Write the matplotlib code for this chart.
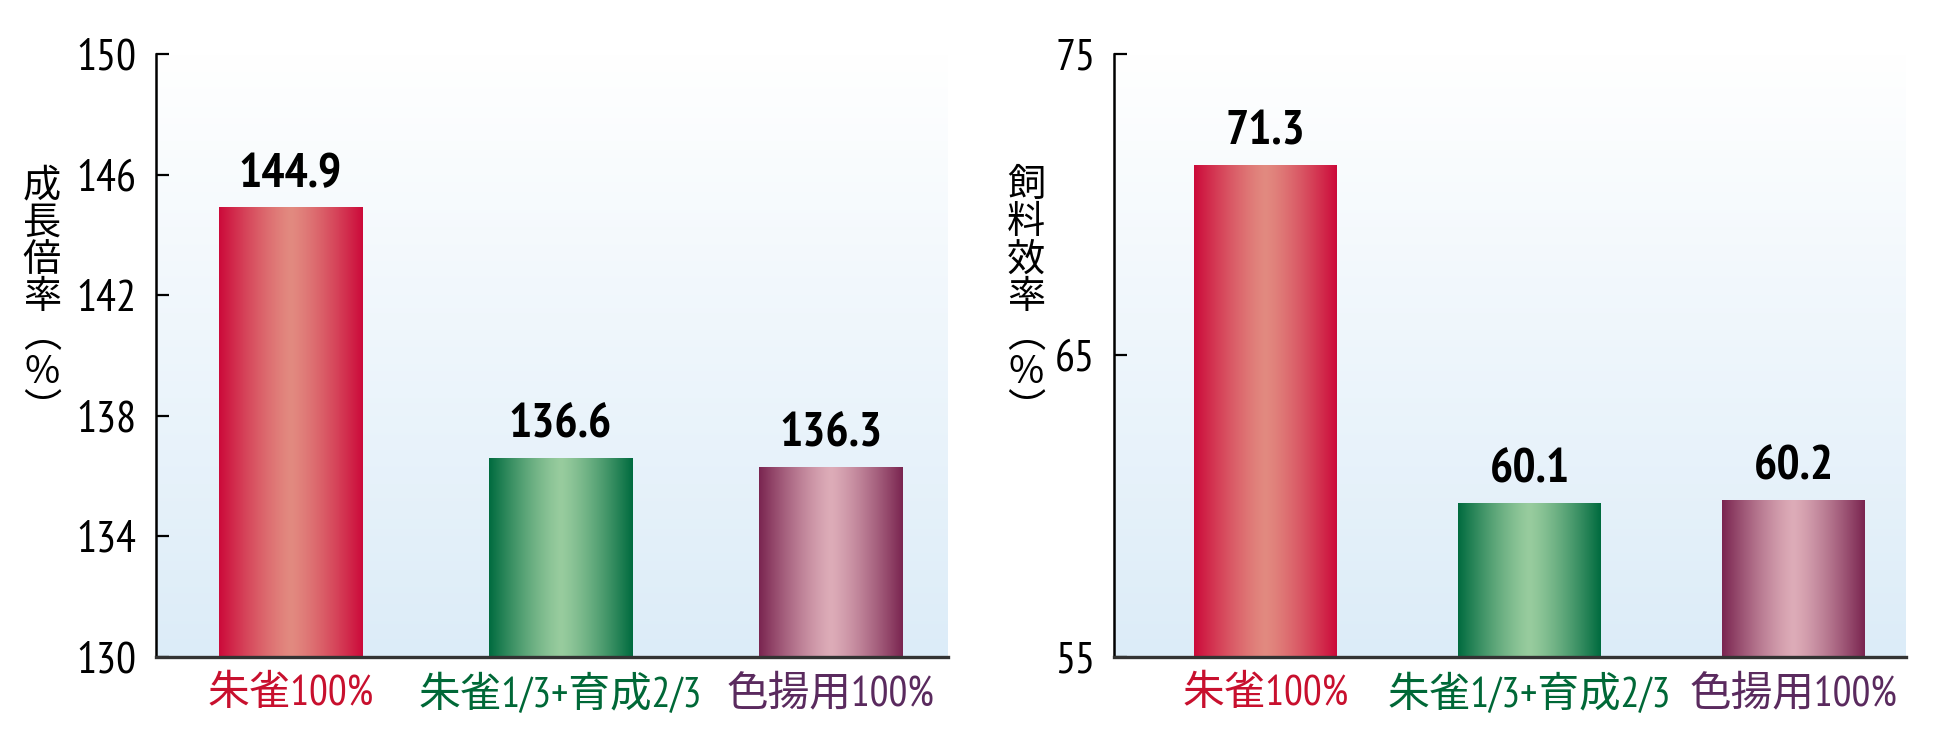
import numpy as np
import matplotlib
matplotlib.use("Agg")
import matplotlib.pyplot as plt
from matplotlib import font_manager as fm

# ---------------- data ----------------
categories = ["朱雀100%", "朱雀1/3+育成2/3", "色揚用100%"]
growth_rate = [144.9, 136.6, 136.3]
feed_efficiency = [71.3, 60.1, 60.2]
growth_ticks = [130, 134, 138, 142, 146, 150]
feed_ticks = [55, 65, 75]
growth_label = "成\n長\n倍\n率\n︵\n%\n︶"
feed_label = "飼\n料\n效\n率\n︵\n%\n︶"

# ---------------- style ----------------
names = {f.name for f in fm.fontManager.ttflist}
narrow = "DejaVu Sans"
for cand in ["PT Sans Narrow", "Roboto Condensed", "Fira Sans Condensed",
             "Asap Condensed", "Encode Sans Condensed", "Archivo Narrow",
             "Liberation Sans Narrow"]:
    if cand in names:
        narrow = cand
        break
CJK = "Noto Sans CJK JP"
fam = [narrow, CJK, "DejaVu Sans"]
plt.rcParams["font.family"] = fam

bar_dark = ["#cc0a3a", "#006b3f", "#7a2550"]
bar_light = ["#e28a80", "#98cc9e", "#ddacb8"]
label_colors = ["#c8102e", "#006837", "#5a2a5e"]

fig = plt.figure(figsize=(19.40, 7.39), dpi=100)
axL = fig.add_axes([156/1940, 1-657/739, 792/1940, 603/739])
axR = fig.add_axes([1114.5/1940, 1-657/739, 791.5/1940, 603/739])

top_rgb = np.array(matplotlib.colors.to_rgb("#ffffff"))
bot_rgb = np.array(matplotlib.colors.to_rgb("#dcecf8"))


def draw_panel(ax, values, ticks, ylab, xlim, width, ylab_x):
    ymin, ymax = ticks[0], ticks[-1]
    # background gradient (white top -> light blue bottom)
    s = np.linspace(0, 1, 256)[:, None]
    bgimg = ((1 - s) * top_rgb + s * bot_rgb)[:, None, :]
    ax.imshow(bgimg, extent=[0, 1, 0, 1], transform=ax.transAxes,
              aspect="auto", zorder=0, interpolation="bilinear")
    x = np.arange(len(values))
    bars = ax.bar(x, [v - ymin for v in values], bottom=ymin, width=width,
                  color="none", edgecolor="none", zorder=2)
    for i, b in enumerate(bars):
        t = np.linspace(0, 1, 256)
        d = np.abs(t - 0.5) * 2
        w = np.clip(d, 0, 1) ** 1.3
        c0 = np.array(matplotlib.colors.to_rgb(bar_light[i]))
        c1 = np.array(matplotlib.colors.to_rgb(bar_dark[i]))
        img = ((1 - w)[:, None] * c0 + w[:, None] * c1)[None, :, :]
        ax.imshow(img, extent=[b.get_x(), b.get_x() + b.get_width(),
                               b.get_y(), b.get_y() + b.get_height()],
                  aspect="auto", zorder=3, interpolation="bilinear")
        ax.annotate(f"{values[i]:.1f}", (b.get_x() + b.get_width() / 2, values[i]),
                    xytext=(0, 15), textcoords="offset points", ha="center", va="baseline",
                    fontsize=35, fontweight="bold", color="black", zorder=5)
    ax.set_xlim(*xlim)
    ax.set_ylim(ymin, ymax)
    ax.set_yticks(ticks)
    ax.set_yticklabels([str(t) for t in ticks])
    ax.tick_params(axis="y", direction="in", length=9, width=1.6, pad=14,
                   labelsize=32, colors="black")
    ax.set_xticks(x)
    ax.set_xticklabels(categories)
    ax.tick_params(axis="x", length=0, pad=13, labelsize=30)
    for lab, c in zip(ax.get_xticklabels(), label_colors):
        lab.set_color(c)
    for sp in ["top", "right"]:
        ax.spines[sp].set_visible(False)
    ax.spines["left"].set_linewidth(1.8)
    ax.spines["bottom"].set_linewidth(2.4)
    ax.spines["bottom"].set_color("#333333")
    ax.spines["left"].set_zorder(6)
    ax.spines["bottom"].set_zorder(6)
    fig.text(ylab_x, 1 - 298/739, ylab, ha="center", va="center",
             fontsize=27.5, family=[CJK, "DejaVu Sans"], linespacing=0.95)


draw_panel(axL, growth_rate, growth_ticks, growth_label, (-0.498, 2.435), 0.53, 42/1940)
draw_panel(axR, feed_efficiency, feed_ticks, feed_label, (-0.572, 2.426), 0.54, 1026/1940)

fig.savefig("out.png", dpi=100)
